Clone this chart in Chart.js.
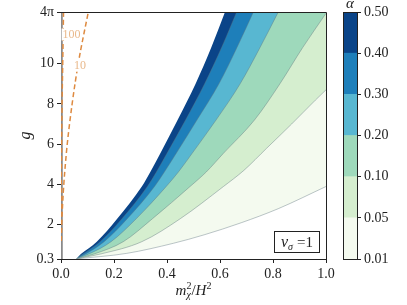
<!DOCTYPE html>
<html>
<head>
<meta charset="utf-8">
<script src="https://cdn.jsdelivr.net/npm/chart.js@4/dist/chart.umd.min.js"></script>
<style>
  body { margin: 0; background: #fff; }
  #wrap { position: relative; width: 407px; height: 305px; }
  #main { position: absolute; left: 0; top: 0; }
  #cbar { position: absolute; left: 330px; top: 0; }
</style>
</head>
<body>
<div id="wrap">
  <canvas id="main" width="407" height="305"></canvas>
  <canvas id="cbar" width="77" height="305"></canvas>
</div>
<script>
const FOURPI = 4 * Math.PI;
const SERIF = "'Liberation Serif', 'DejaVu Serif', serif";

// axis ticks
const xTicks = [0, 0.2, 0.4, 0.6, 0.8, 1.0];
const yTicks = [0.3, 2, 4, 6, 8, 10, FOURPI];

// contour boundaries, alpha level -> (m^2/H^2, g)
const gCommon = [0.3, 0.55, 1.16, 2.3, 3.9, 4.62, 5.55, 7.2, 9.0, 10.8, FOURPI];

const c050_x = [0.053, 0.075, 0.135, 0.212, 0.305, 0.337, 0.375, 0.44, 0.508, 0.567, 0.619];
const c040_x = [0.053, 0.083, 0.148, 0.230, 0.326, 0.360, 0.400, 0.470, 0.542, 0.606, 0.663];
const c030_x = [0.053, 0.093, 0.163, 0.250, 0.353, 0.390, 0.435, 0.513, 0.596, 0.664, 0.726];
const c020_x = [0.053, 0.105, 0.189, 0.284, 0.397, 0.443, 0.495, 0.585, 0.676, 0.751, 0.820];

const c010_x = [0.053, 0.125, 0.235, 0.345, 0.487, 0.548, 0.613, 0.73, 0.826, 0.912, 1.0];
const c010_g = [0.3, 0.55, 1.16, 2.3, 3.9, 4.62, 5.55, 7.2, 9.0, 10.8, 12.5];

const c005_x = [0.053, 0.15, 0.305, 0.45, 0.613, 0.69, 0.776, 0.87, 0.96, 1.0];
const c005_g = [0.3, 0.55, 1.16, 2.3, 3.9, 4.7, 5.8, 7.0, 8.19, 8.7];

const c001_x = [0.053, 0.248, 0.424, 0.54, 0.68, 0.82, 1.0];
const c001_g = [0.3, 0.58, 1.08, 1.5, 2.1, 2.8, 3.9];

// dashed curves labelled 100 and 10
const d10_x = [0.001, 0.0027, 0.006, 0.0105, 0.0165, 0.0235, 0.042, 0.065, 0.103];
const d10_g = [1.2, 2, 3, 4, 5, 6, 8, 10, FOURPI];
const d100_x = [0.0002, 0.0005, 0.001, 0.0023, 0.004, 0.0065, 0.0095];
const d100_g = [1.2, 2.5, 4, 6, 8, 10, FOURPI];

// grey line along the left edge
const grey_x = [0.002, 0.002];
const grey_g = [0.3, FOURPI];

// colour levels
const cbLevels = [0.01, 0.05, 0.10, 0.20, 0.30, 0.40, 0.50];
const cbColors = ['#f4faef', '#d5eecf', '#9ed9bb', '#58b7d1', '#1e7fba', '#0a4488'];

const pts = (xs, gs) => xs.map((x, i) => ({ x: x, y: gs[i] }));
const edge = 'rgba(95,115,125,0.6)';

// white cover above the 0.50 edge also runs back to x = 0
const topWhite = [{ x: 0, y: 0.3 }].concat(pts(c050_x, gCommon));

// painted from the lowest level up, each filled towards the top
const layers = [
  { data: pts(c001_x, c001_g), color: cbColors[0], line: edge },
  { data: pts(c005_x, c005_g), color: cbColors[1], line: edge },
  { data: pts(c010_x, c010_g), color: cbColors[2], line: edge },
  { data: pts(c020_x, gCommon), color: cbColors[3], line: edge },
  { data: pts(c030_x, gCommon), color: cbColors[4], line: edge },
  { data: pts(c040_x, gCommon), color: cbColors[5], line: edge },
  { data: topWhite, color: '#ffffff', line: 'rgba(0,0,0,0)' }
];

const datasets = layers.map((l, i) => ({
  data: l.data,
  fill: 'end',
  backgroundColor: l.color,
  borderColor: l.line,
  borderWidth: 0.7,
  pointRadius: 0,
  cubicInterpolationMode: 'monotone',
  order: 20 - i
}));

datasets.push({
  data: pts(grey_x, grey_g), fill: false, borderColor: '#8a8a8a', borderWidth: 2.5,
  pointRadius: 0, order: 3
});
datasets.push({
  data: pts(d100_x, d100_g), fill: false, borderColor: '#de8a40', borderWidth: 1.5,
  borderDash: [5, 3], pointRadius: 0, cubicInterpolationMode: 'monotone', order: 2
});
datasets.push({
  data: pts(d10_x, d10_g), fill: false, borderColor: '#de8a40', borderWidth: 1.5,
  borderDash: [5, 3], pointRadius: 0, cubicInterpolationMode: 'monotone', order: 1
});

function drawPieces(ctx, pieces, cx, baseY) {
  let w = 0;
  pieces.forEach(p => { ctx.font = p.font; p.w = ctx.measureText(p.t).width; if (!p.stack) w += p.w + (p.gap || 0); });
  let x = cx - w / 2;
  ctx.textAlign = 'left';
  ctx.textBaseline = 'alphabetic';
  let lastX = x;
  pieces.forEach(p => {
    ctx.font = p.font;
    if (p.stack) {
      ctx.fillText(p.t, lastX, baseY + (p.dy || 0));
    } else {
      lastX = x;
      ctx.fillText(p.t, x, baseY + (p.dy || 0));
      x += p.w + (p.gap || 0);
    }
  });
}

function inlineLabel(ctx, text, px, py) {
  const w = ctx.measureText(text).width;
  ctx.fillStyle = '#fff';
  ctx.fillRect(px - w / 2 - 1, py - 6, w + 2, 12);
  ctx.fillStyle = '#e9b98c';
  ctx.fillText(text, px, py);
}

const extras = {
  id: 'extras',
  afterDatasetsDraw(chart) {
    const { ctx, chartArea: a, scales } = chart;
    ctx.save();
    // frame
    ctx.strokeStyle = '#222';
    ctx.lineWidth = 1;
    ctx.beginPath();
    ctx.moveTo(a.left, a.top + 0.5); ctx.lineTo(a.right + 0.5, a.top + 0.5);
    ctx.lineTo(a.right + 0.5, a.bottom + 0.5); ctx.lineTo(a.left, a.bottom + 0.5);
    ctx.stroke();

    // curve labels
    ctx.font = '12px ' + SERIF;
    ctx.textAlign = 'center';
    ctx.textBaseline = 'middle';
    inlineLabel(ctx, '100', scales.x.getPixelForValue(0.040), scales.y.getPixelForValue(11.45));
    inlineLabel(ctx, '10', scales.x.getPixelForValue(0.072), scales.y.getPixelForValue(9.9));

    // legend box
    const bx = a.right - 52, by = a.bottom - 28, bw = 45, bh = 21;
    ctx.fillStyle = '#fff';
    ctx.fillRect(bx, by, bw, bh);
    ctx.strokeStyle = '#222';
    ctx.lineWidth = 1;
    ctx.strokeRect(bx + 0.5, by + 0.5, bw, bh);
    ctx.fillStyle = '#222';
    drawPieces(ctx, [
      { t: 'ν', font: 'italic 16px ' + SERIF },
      { t: 'σ', font: 'italic 10px ' + SERIF, dy: 3, gap: 4 },
      { t: '=1', font: '15px ' + SERIF }
    ], bx + bw / 2 + 0.5, by + 16);

    // x title
    drawPieces(ctx, [
      { t: 'm', font: 'italic 15px ' + SERIF },
      { t: '2', font: '10px ' + SERIF, dy: -6 },
      { t: 'χ', font: 'italic 10px ' + SERIF, dy: 3, stack: true },
      { t: '/', font: '15px ' + SERIF },
      { t: 'H', font: 'italic 15px ' + SERIF },
      { t: '2', font: '10px ' + SERIF, dy: -6 }
    ], (a.left + a.right) / 2, a.bottom + 36);
    ctx.restore();
  }
};

new Chart(document.getElementById('main'), {
  type: 'line',
  data: { datasets: datasets },
  options: {
    responsive: false,
    animation: false,
    devicePixelRatio: 1,
    layout: { padding: { top: 12, right: 81, bottom: 0, left: 12 } },
    plugins: { legend: { display: false }, tooltip: { enabled: false } },
    scales: {
      x: {
        type: 'linear', min: 0, max: 1,
        afterFit(s) { s.height = 46; },
        afterBuildTicks(s) { s.ticks = xTicks.map(v => ({ value: v })); },
        ticks: { callback: v => v.toFixed(1), color: '#222', font: { family: SERIF, size: 14 }, padding: 3, maxRotation: 0 },
        grid: { drawOnChartArea: false, tickLength: 4, color: '#222' },
        border: { display: false }
      },
      y: {
        type: 'linear', min: 0.3, max: FOURPI,
        afterFit(s) { s.width = 49; },
        afterBuildTicks(s) { s.ticks = yTicks.map(v => ({ value: v })); },
        ticks: {
          callback: v => Math.abs(v - FOURPI) < 1e-6 ? '4π' : (v < 1 ? v.toFixed(1) : String(v)),
          color: '#222', font: { family: SERIF, size: 14 }, padding: 3
        },
        grid: { drawOnChartArea: false, tickLength: 4, color: '#222' },
        border: { display: false },
        title: { display: true, text: 'g', color: '#222', font: { family: SERIF, size: 16, style: 'italic' } }
      }
    }
  },
  plugins: [extras]
});

// colour bar
const cbFrame = {
  id: 'cbFrame',
  afterDatasetsDraw(chart) {
    const { ctx, chartArea: a } = chart;
    ctx.save();
    ctx.strokeStyle = '#222';
    ctx.lineWidth = 1;
    ctx.strokeRect(a.left + 0.5, a.top + 0.5, a.right - a.left, a.bottom - a.top);
    ctx.fillStyle = '#222';
    ctx.font = 'italic 15px ' + SERIF;
    ctx.textAlign = 'center';
    ctx.textBaseline = 'alphabetic';
    ctx.fillText('α', (a.left + a.right) / 2, 8);
    ctx.restore();
  }
};

new Chart(document.getElementById('cbar'), {
  type: 'bar',
  data: {
    labels: ['α'],
    datasets: cbColors.map(c => ({
      data: [1], backgroundColor: c, borderWidth: 0,
      barPercentage: 1, categoryPercentage: 1
    }))
  },
  options: {
    responsive: false,
    animation: false,
    devicePixelRatio: 1,
    layout: { padding: { top: 12, right: 0, bottom: 46, left: 13 } },
    plugins: { legend: { display: false }, tooltip: { enabled: false } },
    scales: {
      x: { display: false, stacked: true },
      y: {
        stacked: true, position: 'right', min: 0, max: cbColors.length,
        afterFit(s) { s.width = 50; },
        afterBuildTicks(s) { s.ticks = cbLevels.map((v, i) => ({ value: i })); },
        ticks: { callback: (v, i) => cbLevels[i].toFixed(2), color: '#222', font: { family: SERIF, size: 14 }, padding: 3 },
        grid: { drawOnChartArea: false, tickLength: 4, color: '#222' },
        border: { display: false }
      }
    }
  },
  plugins: [cbFrame]
});
</script>
</body>
</html>
